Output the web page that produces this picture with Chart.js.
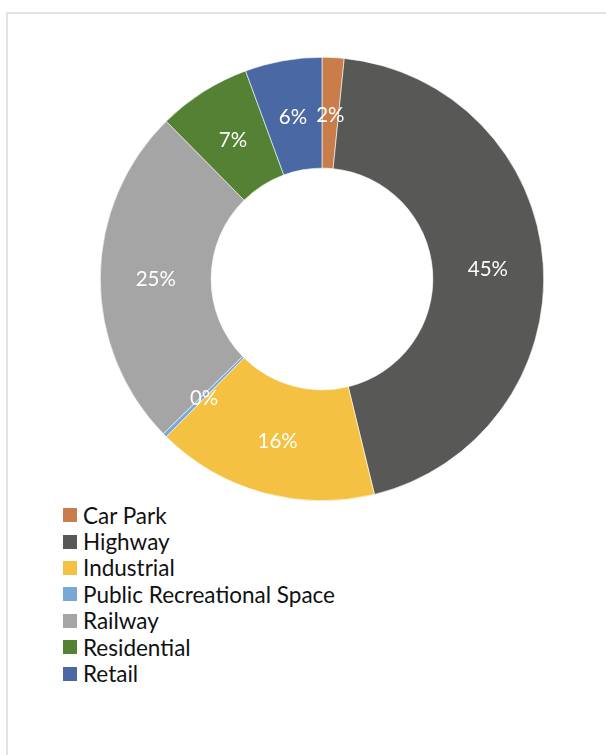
<!DOCTYPE html>
<html lang="en">
<head>
    <meta charset="UTF-8">
    <title>Land use</title>
    <script src="https://cdn.jsdelivr.net/npm/chart.js"></script>
    <style>
        body { margin: 0; background: #fff; font-family: Lato, sans-serif; }
        .frame {
            position: absolute; left: 6px; top: 12px;
            width: 640px; height: 800px;
            border: 2px solid #e3e3e3;
        }
        .chart-box { position: absolute; left: 100px; top: 57px; width: 444px; height: 444px; }
        #legend { position: absolute; left: 63px; top: 502px; margin: 0; padding: 0; list-style: none; }
        #legend li { height: 26.4px; display: flex; align-items: center; font-size: 22.5px; color: #111; }
        #legend span { display: inline-block; width: 14px; height: 14px; margin-right: 6px; }
    </style>
</head>
<body>
    <div class="frame"></div>
    <div class="chart-box">
        <canvas id="chart"></canvas>
    </div>
    <ul id="legend"></ul>

    <script>
        const categories = ["Car Park", "Highway", "Industrial", "Public Recreational Space", "Railway", "Residential", "Retail"];
        const shares = [1.6, 44.6, 16.2, 0.3, 24.9, 6.8, 5.6];
        const colors = ["#c87d4b", "#585856", "#f4c142", "#78a8d6", "#a5a5a5", "#548133", "#4a68a4"];

        // percentage labels in the middle of each ring segment
        const sliceLabels = {
            id: "sliceLabels",
            afterDatasetsDraw(chart) {
                const ctx = chart.ctx;
                const meta = chart.getDatasetMeta(0);
                const total = shares.reduce((a, b) => a + b, 0);
                ctx.save();
                ctx.fillStyle = "#fff";
                ctx.font = "20.5px Lato";
                ctx.textAlign = "center";
                ctx.textBaseline = "middle";
                meta.data.forEach((arc, i) => {
                    const p = arc.tooltipPosition();
                    ctx.fillText(Math.round(shares[i] / total * 100) + "%", p.x, p.y + 2);
                });
                ctx.restore();
            }
        };

        const chart = new Chart(document.getElementById("chart"), {
            type: "doughnut",
            data: {
                labels: categories,
                datasets: [{
                    data: shares,
                    backgroundColor: colors,
                    borderColor: "#fff",
                    borderWidth: 0.6
                }]
            },
            options: {
                responsive: true,
                maintainAspectRatio: false,
                animation: false,
                cutout: "50%",
                plugins: {
                    legend: { display: false },
                    tooltip: { enabled: false }
                }
            },
            plugins: [sliceLabels]
        });

        const legend = document.getElementById("legend");
        chart.options.plugins.legend.labels.generateLabels(chart).forEach(item => {
            const li = document.createElement("li");
            const box = document.createElement("span");
            box.style.background = item.fillStyle;
            li.appendChild(box);
            li.appendChild(document.createTextNode(item.text));
            legend.appendChild(li);
        });
    </script>
</body>
</html>
